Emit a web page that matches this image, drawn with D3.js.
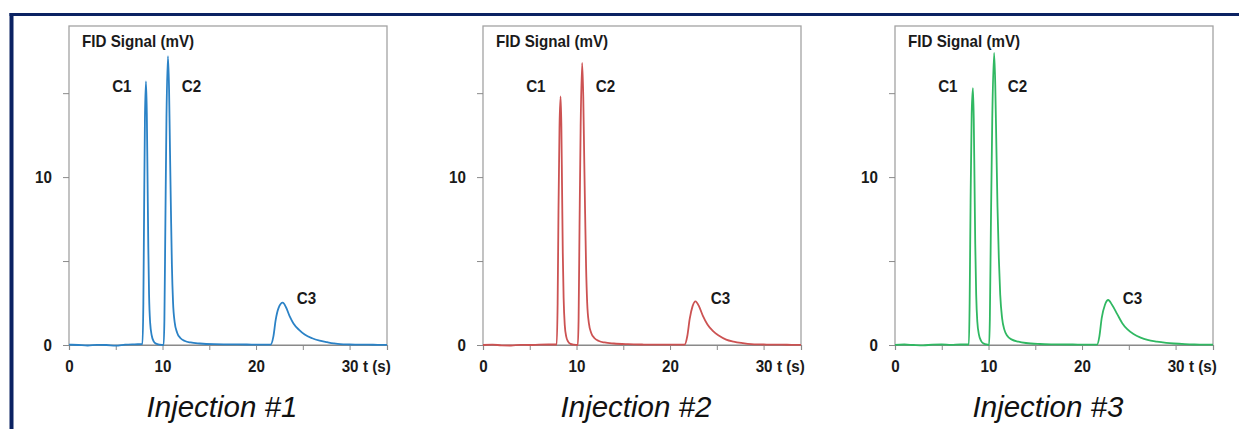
<!DOCTYPE html>
<html>
<head>
<meta charset="utf-8">
<script src="https://cdn.jsdelivr.net/npm/d3@7"></script>
<style>
  html, body { margin: 0; padding: 0; background: #ffffff; }
  svg { display: block; }
  text { font-family: "Liberation Sans", Arial, sans-serif; }
</style>
</head>
<body>
<script>
// ---------------- DATA ----------------
const injections = ["Injection #1", "Injection #2", "Injection #3"];
const yAxisTitle = "FID Signal (mV)";
const xAxisTitle = "t (s)";
const xTickValues = [0, 5, 10, 15, 20, 25, 30];
const xTickLabels = [0, 10, 20, 30];
const yTickValues = [0, 5, 10, 15];
const yTickLabels = [0, 10];
const peakNames = ["C1", "C2", "C3"];
const peakLabelT = [5.65, 13.1, 25.4];     // time (s) of the peak labels
const peakLabelV = [15.45, 15.45, 2.8];    // signal (mV) of the peak labels

// [t (s), signal (mV)]
const injection1 = [
  [0,0.02],[1,0.0],[2,-0.03],[3,0.01],[4,0.0],[5,-0.04],[6,0.02],[7,0.04],[7.85,0.05],
  [7.95,2.5],[8.03,8.0],[8.12,13.5],[8.23,15.7],[8.32,13.8],[8.4,9.8],[8.48,5.8],[8.56,3.0],[8.68,1.3],[8.85,0.55],[9.05,0.22],[9.3,0.08],[9.7,0.02],[10.12,0.0],
  [10.2,1.5],[10.3,7.0],[10.42,13.5],[10.58,17.2],[10.7,15.2],[10.8,11.5],[10.9,8.0],[11.0,4.8],[11.12,2.6],[11.3,1.35],[11.55,0.75],[11.9,0.42],[12.4,0.24],[13.0,0.15],[14.0,0.09],[15.5,0.05],[17,0.04],[19,0.03],[20.5,0.02],[21.55,0.02],
  [21.85,0.5],[22.1,1.5],[22.4,2.2],[22.85,2.52],[23.2,2.25],[23.6,1.7],[24.0,1.28],[24.6,0.9],[25.2,0.62],[26.0,0.4],[26.8,0.26],[27.6,0.17],[28.3,0.1],[29,0.05],[30,0.03],[31,0.02],[32,0.02],[33,0.01],[34,0.01]
];
const injection2 = [
  [0,0.0],[1,0.02],[2,-0.02],[3,-0.03],[4,0.01],[5,0.0],[6,0.02],[7,0.03],[7.88,0.03],
  [7.98,2.5],[8.07,8.0],[8.18,13.0],[8.3,14.8],[8.38,13.0],[8.45,9.5],[8.53,5.5],[8.62,2.8],[8.74,1.2],[8.9,0.5],[9.1,0.2],[9.35,0.07],[9.7,0.02],[10.14,0.0],
  [10.22,1.5],[10.32,7.0],[10.44,13.0],[10.6,16.8],[10.72,14.8],[10.82,11.2],[10.92,7.8],[11.02,4.7],[11.14,2.5],[11.32,1.3],[11.57,0.72],[11.9,0.42],[12.4,0.24],[13.0,0.15],[14.0,0.09],[15.5,0.05],[17,0.03],[19,0.02],[20.5,0.02],[21.55,0.02],
  [21.85,0.55],[22.1,1.55],[22.4,2.3],[22.72,2.6],[23.1,2.3],[23.5,1.75],[24.0,1.22],[24.6,0.82],[25.2,0.56],[26.0,0.32],[26.8,0.2],[27.6,0.12],[28.3,0.07],[29,0.04],[30,0.03],[31,0.02],[32,0.02],[33,0.01],[34,0.01]
];
const injection3 = [
  [0,0.01],[1,0.03],[2,0.0],[3,-0.02],[4,0.02],[5,0.03],[6,0.01],[7,0.03],[7.9,0.03],
  [7.98,2.5],[8.08,8.5],[8.2,13.8],[8.33,15.3],[8.42,13.5],[8.5,9.8],[8.58,6.0],[8.68,3.0],[8.8,1.4],[8.98,0.6],[9.2,0.25],[9.5,0.08],[9.9,0.02],[10.06,0.0],
  [10.14,1.5],[10.25,7.0],[10.4,13.5],[10.6,17.4],[10.72,15.5],[10.84,11.8],[10.96,8.2],[11.1,5.2],[11.25,3.0],[11.45,1.6],[11.7,0.9],[12.0,0.55],[12.5,0.32],[13.2,0.2],[14.0,0.12],[15.5,0.06],[17,0.04],[19,0.03],[20.5,0.02],[21.6,0.02],
  [21.85,0.5],[22.1,1.6],[22.45,2.4],[22.8,2.68],[23.2,2.4],[23.76,1.84],[24.3,1.3],[24.83,0.94],[25.5,0.65],[26.26,0.44],[27.0,0.3],[28.0,0.2],[29.0,0.13],[29.8,0.09],[31,0.05],[32,0.03],[33,0.02],[34,0.02]
];
const series = [injection1, injection2, injection3];

// ---------------- STYLE / LAYOUT ----------------
const lineColors = ["#2b82c6", "#cc5252", "#30b862"];
const W = 1239, H = 429;
const panelLeft = [69, 483, 895];
const plotW = 318, plotTop = 26, plotBottom = 345;
const navy = "#0b2262";
const frameColor = "#a3a3a3";
const fs = 16.5, squeeze = 0.92;   // condensed bold labels
const textColor = "#1a1a1a";

const svg = d3.select("body").append("svg").attr("width", W).attr("height", H);
svg.append("rect").attr("width", W).attr("height", H).attr("fill", "#fff");

// Navy border (top + left)
svg.append("rect").attr("x", 9.5).attr("y", 13).attr("width", W - 9.5).attr("height", 3).attr("fill", navy);
svg.append("rect").attr("x", 9.5).attr("y", 13).attr("width", 4).attr("height", H - 13).attr("fill", navy);

function label(g, x, y, txt, anchor, dy) {
  return g.append("text")
    .attr("transform", `translate(${x},${y}) scale(${squeeze},1)`)
    .attr("dy", dy || 0)
    .attr("text-anchor", anchor || "start")
    .attr("font-size", fs).attr("font-weight", "bold").attr("fill", textColor)
    .text(txt);
}

series.forEach((data, i) => {
  const x0 = panelLeft[i];
  const x = d3.scaleLinear().domain([0, 34]).range([x0, x0 + plotW]);
  const y = d3.scaleLinear().domain([0, 19]).range([plotBottom, plotTop]);
  const g = svg.append("g");

  // frame
  g.append("rect")
    .attr("x", x0).attr("y", plotTop)
    .attr("width", plotW).attr("height", plotBottom - plotTop)
    .attr("fill", "none").attr("stroke", frameColor).attr("stroke-width", 1.3);

  // x axis
  const xa = g.append("g").attr("transform", `translate(0,${plotBottom})`)
    .call(d3.axisBottom(x).tickValues(xTickValues)
      .tickFormat(d => xTickLabels.includes(d) ? d : "")
      .tickSize(5).tickPadding(10));
  xa.select(".domain").attr("stroke", "#8a8a8a").attr("stroke-width", 1.2);
  xa.selectAll(".tick line").attr("stroke", "#8a8a8a");
  xa.selectAll(".tick text").attr("font-size", fs).attr("font-weight", "bold")
    .attr("fill", textColor).attr("font-family", "Liberation Sans, Arial, sans-serif")
    .attr("transform", `scale(${squeeze},1)`);

  // y axis
  const ya = g.append("g").attr("transform", `translate(${x0},0)`)
    .call(d3.axisLeft(y).tickValues(yTickValues)
      .tickFormat(d => yTickLabels.includes(d) ? d : "")
      .tickSize(6).tickPadding(12.5));
  ya.select(".domain").remove();
  ya.selectAll(".tick line").attr("stroke", "#8a8a8a");
  ya.selectAll(".tick text").attr("font-size", fs).attr("font-weight", "bold")
    .attr("fill", textColor).attr("font-family", "Liberation Sans, Arial, sans-serif")
    .attr("transform", `scale(${squeeze},1)`);

  // axis titles
  label(g, x0 + 13, 46.5, yAxisTitle);
  label(g, x0 + 294, plotBottom + 15 + fs * 0.71, xAxisTitle);

  // signal
  const line = d3.line().x(d => x(d[0])).y(d => y(d[1])).curve(d3.curveMonotoneX);
  g.append("path").datum(data)
    .attr("d", line)
    .attr("fill", "none")
    .attr("stroke", lineColors[i])
    .attr("stroke-width", 1.8)
    .attr("stroke-linejoin", "round");

  // peak labels
  peakNames.forEach((p, k) => {
    label(g, x(peakLabelT[k]), y(peakLabelV[k]), p, "middle", "0.36em");
  });

  // panel title
  svg.append("text")
    .attr("x", x0 + plotW / 2 - 6).attr("y", 417)
    .attr("text-anchor", "middle")
    .attr("font-size", 29.5).attr("font-style", "italic").attr("fill", "#111")
    .text(injections[i]);
});
</script>
</body>
</html>
